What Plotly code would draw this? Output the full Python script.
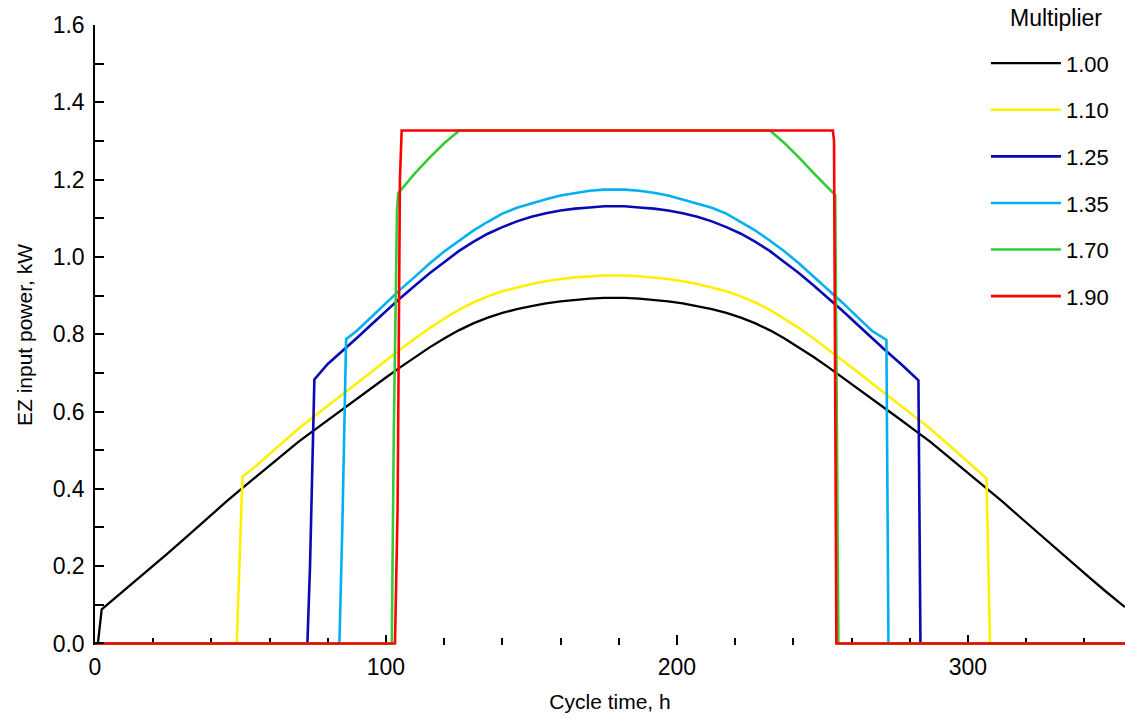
import plotly.graph_objects as go

# ---------------- data ----------------
multipliers = ["1.00", "1.10", "1.25", "1.35", "1.70", "1.90"]
colors = ["#000000", "#FFF000", "#0A0AB4", "#00B0F0", "#33CC33", "#FF0000"]

x_black = [0, 1.0, 2.3, 5, 10, 15, 20, 25, 30, 35, 40, 45, 50, 55, 60, 65, 70, 75, 80, 85, 90, 95,
           100, 105, 110, 115, 120, 125, 130, 135, 140, 145, 150, 155, 160, 165, 170, 175, 178.5,
           182, 187, 192, 197, 202, 207, 212, 217, 222, 227, 232, 237, 242, 247, 252, 257, 262, 267,
           272, 277, 282, 287, 292, 297, 302, 307, 312, 317, 322, 327, 332, 337, 342, 347, 352, 354]
y_black = [0, 0, 0.088, 0.105, 0.137, 0.169, 0.201, 0.233, 0.266, 0.300, 0.333, 0.366, 0.398, 0.429,
           0.460, 0.491, 0.522, 0.550, 0.578, 0.605, 0.632, 0.660,
           0.688, 0.715, 0.741, 0.766, 0.789, 0.810, 0.828, 0.843, 0.855, 0.865, 0.873, 0.880, 0.885,
           0.889, 0.892, 0.894, 0.894,
           0.894, 0.892, 0.889, 0.885, 0.880, 0.873, 0.865, 0.855, 0.843, 0.828, 0.810, 0.789, 0.766,
           0.741, 0.715, 0.688, 0.660, 0.632, 0.605, 0.578, 0.550, 0.522, 0.491, 0.460, 0.429, 0.398,
           0.366, 0.333, 0.300, 0.266, 0.233, 0.201, 0.169, 0.137, 0.105, 0.094]

x_yellow = [0, 48.7, 50.7, 55, 60, 65, 70, 75, 80, 85, 90, 95, 100, 105, 110, 115, 120, 125, 130, 135,
            140, 145, 150, 155, 160, 165, 170, 175, 178.5, 182, 187, 192, 197, 202, 207, 212, 217, 222,
            227, 232, 237, 242, 247, 252, 257, 262, 267, 272, 277, 282, 287, 292, 297, 302, 306.4,
            307.6, 354]
y_yellow = [0, 0, 0.431, 0.457, 0.490, 0.523, 0.556, 0.586, 0.616, 0.644, 0.673, 0.703, 0.733, 0.761,
            0.789, 0.816, 0.840, 0.863, 0.882, 0.898, 0.911, 0.921, 0.930, 0.937, 0.943, 0.947, 0.950,
            0.952, 0.952, 0.952, 0.950, 0.947, 0.943, 0.937, 0.930, 0.921, 0.911, 0.898, 0.882, 0.863,
            0.840, 0.816, 0.789, 0.761, 0.733, 0.703, 0.673, 0.644, 0.616, 0.586, 0.556, 0.523, 0.490,
            0.457, 0.427, 0, 0]

x_blue = [0, 73.0, 73.9, 75.4, 80, 85, 90, 95, 100, 105, 110, 115, 120, 125, 130, 135, 140, 145, 150,
          155, 160, 165, 170, 175, 178.5, 182, 187, 192, 197, 202, 207, 212, 217, 222, 227, 232, 237,
          242, 247, 252, 257, 262, 267, 272, 277, 282, 283.0, 283.7, 354]
y_blue = [0, 0, 0.20, 0.683, 0.723, 0.756, 0.790, 0.825, 0.860, 0.894, 0.926, 0.958, 0.986, 1.015,
          1.039, 1.060, 1.077, 1.092, 1.104, 1.113, 1.120, 1.125, 1.128, 1.131, 1.131, 1.131, 1.128,
          1.125, 1.120, 1.113, 1.104, 1.092, 1.077, 1.060, 1.039, 1.015, 0.986, 0.958, 0.926, 0.894,
          0.860, 0.825, 0.790, 0.756, 0.723, 0.688, 0.681, 0, 0]

x_cyan = [0, 84.0, 85.0, 86.3, 90, 95, 100, 105, 110, 115, 120, 125, 130, 135, 140, 145, 150, 155, 160,
          165, 170, 175, 178.5, 182, 187, 192, 197, 202, 207, 212, 217, 222, 227, 232, 237, 242, 247,
          252, 257, 262, 267, 272.0, 272.7, 354]
y_cyan = [0, 0, 0.30, 0.787, 0.809, 0.845, 0.881, 0.916, 0.949, 0.983, 1.014, 1.042, 1.068, 1.091,
          1.112, 1.127, 1.139, 1.149, 1.159, 1.166, 1.171, 1.174, 1.174, 1.174, 1.171, 1.166, 1.159,
          1.149, 1.139, 1.127, 1.112, 1.091, 1.068, 1.042, 1.014, 0.983, 0.949, 0.916, 0.881, 0.845,
          0.809, 0.785, 0, 0]

x_green = [0, 102.0, 102.7, 103.8, 104.2, 110, 115, 120, 125.2, 232.0, 237, 242, 247, 254.4, 255.5, 354]
y_green = [0, 0, 0.55, 1.12, 1.165, 1.217, 1.257, 1.294, 1.327, 1.327, 1.294, 1.257, 1.217, 1.160, 0, 0]

x_red = [0, 103.1, 104.0, 104.8, 105.4, 253.6, 254.0, 254.8, 354]
y_red = [0, 0, 0.35, 1.20, 1.327, 1.327, 1.30, 0, 0]

series_x = [x_black, x_yellow, x_blue, x_cyan, x_green, x_red]
series_y = [y_black, y_yellow, y_blue, y_cyan, y_green, y_red]

x_ticks = [0, 100, 200, 300]
y_ticks = [0.0, 0.2, 0.4, 0.6, 0.8, 1.0, 1.2, 1.4, 1.6]
legend_title = "Multiplier"

FONT = "Liberation Sans, Arial, sans-serif"

fig = go.Figure()
for name, col, xs, ys in zip(multipliers, colors, series_x, series_y):
    fig.add_trace(go.Scatter(
        x=xs, y=ys, mode="lines", name=name, legendgroup=name,
        line=dict(color=col, width=2.6 if col != "#000000" else 2.3),
    ))

fig.add_annotation(
    text=legend_title, xref="paper", yref="paper", x=0.98, y=1.011,
    xanchor="right", yanchor="middle", showarrow=False,
    font=dict(family=FONT, size=23, color="black"),
)

fig.update_layout(
    width=1125, height=719,
    margin=dict(l=95, r=0, t=25, b=74),
    paper_bgcolor="white", plot_bgcolor="white",
    font=dict(family=FONT, size=22, color="black"),
    showlegend=True,
    legend=dict(
        x=0.865, y=0.972, xanchor="left", yanchor="top",
        bgcolor="rgba(0,0,0,0)",
        font=dict(family=FONT, size=22, color="black"),
        tracegroupgap=15, itemwidth=70,
    ),
    xaxis=dict(
        range=[0, 354], tickvals=x_ticks, ticktext=[str(v) for v in x_ticks],
        ticks="inside", ticklen=10, tickwidth=1.5, tickcolor="black",
        minor=dict(dtick=20, ticks="inside", ticklen=7, tickwidth=1.5, tickcolor="black"),
        showline=False, showgrid=False, zeroline=False, layer="below traces",
        title=dict(text="Cycle time, h", font=dict(size=21), standoff=15),
        tickfont=dict(size=23), ticklabelstandoff=6,
    ),
    yaxis=dict(
        range=[-0.004, 1.6], tickvals=y_ticks, ticktext=[f"{v:.1f}" for v in y_ticks],
        ticks="inside", ticklen=9, tickwidth=1.5, tickcolor="black",
        minor=dict(dtick=0.1, ticks="inside", ticklen=9, tickwidth=1.5, tickcolor="black"),
        showline=True, linecolor="black", linewidth=1.5,
        showgrid=False, zeroline=False,
        title=dict(text="EZ input power, kW", font=dict(size=21), standoff=14),
        tickfont=dict(size=23), ticklabelstandoff=4,
    ),
)

fig.write_html("out.html")
